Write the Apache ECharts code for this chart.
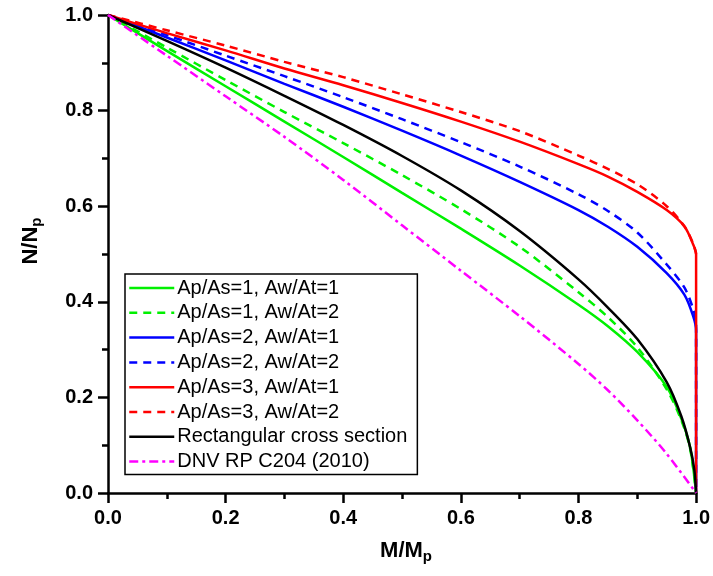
<!DOCTYPE html>
<html>
<head>
<meta charset="utf-8">
<script src="https://cdn.jsdelivr.net/npm/echarts@6/dist/echarts.min.js"></script>
<style>
html,body{margin:0;padding:0;background:#fff;}
#chart{width:713px;height:576px;}
</style>
</head>
<body>
<div id="chart"></div>
<script>
// Series names
const seriesNames = [
  'Ap/As=1, Aw/At=1',
  'Ap/As=1, Aw/At=2',
  'Ap/As=2, Aw/At=1',
  'Ap/As=2, Aw/At=2',
  'Ap/As=3, Aw/At=1',
  'Ap/As=3, Aw/At=2',
  'Rectangular cross section',
  'DNV RP C204 (2010)'
];
// Tick values
const xTicks = [0, 0.2, 0.4, 0.6, 0.8, 1.0];
const yTicks = [0, 0.2, 0.4, 0.6, 0.8, 1.0];

// M/Mp values and N/Np values for each curve
const M_g1 = [0, 0.1, 0.2, 0.3, 0.4, 0.5, 0.6, 0.7, 0.8, 0.85, 0.9, 0.95, 0.975, 0.99, 1.0];
const N_g1 = [1, 0.925, 0.851, 0.777, 0.703, 0.628, 0.553, 0.476, 0.394, 0.349, 0.295, 0.222, 0.155, 0.094, 0];

const M_g2 = [0, 0.1, 0.2, 0.3, 0.4, 0.5, 0.6, 0.7, 0.8, 0.85, 0.9, 0.95, 0.975, 0.99, 1.0];
const N_g2 = [1, 0.932, 0.864, 0.797, 0.732, 0.665, 0.594, 0.515, 0.42, 0.368, 0.305, 0.217, 0.152, 0.092, 0];

const M_b1 = [0, 0.1, 0.2, 0.3, 0.4, 0.5, 0.6, 0.7, 0.8, 0.85, 0.9, 0.95, 0.98, 0.995, 1.0, 1.0];
const N_b1 = [1, 0.953, 0.905, 0.856, 0.808, 0.758, 0.706, 0.651, 0.592, 0.557, 0.515, 0.46, 0.415, 0.37, 0.34, 0];

const M_b2 = [0, 0.1, 0.2, 0.3, 0.4, 0.5, 0.6, 0.7, 0.8, 0.85, 0.9, 0.95, 0.98, 0.995, 1.0, 1.0];
const N_b2 = [1, 0.958, 0.915, 0.872, 0.828, 0.782, 0.734, 0.683, 0.625, 0.59, 0.545, 0.478, 0.43, 0.385, 0.355, 0];

const M_r1 = [0, 0.1, 0.2, 0.3, 0.4, 0.5, 0.6, 0.7, 0.8, 0.85, 0.9, 0.95, 0.98, 0.995, 1.0, 1.0];
const N_r1 = [1, 0.962, 0.926, 0.888, 0.853, 0.816, 0.777, 0.735, 0.688, 0.662, 0.63, 0.592, 0.558, 0.52, 0.50, 0];

const M_r2 = [0, 0.1, 0.2, 0.3, 0.4, 0.5, 0.6, 0.7, 0.8, 0.85, 0.9, 0.95, 0.98, 0.995, 1.0];
const N_r2 = [1, 0.968, 0.936, 0.902, 0.870, 0.834, 0.797, 0.757, 0.706, 0.678, 0.646, 0.600, 0.558, 0.522, 0.50];

const M_rect = [0, 0.1, 0.2, 0.3, 0.4, 0.5, 0.6, 0.7, 0.8, 0.85, 0.9, 0.95, 0.975, 0.99, 0.997, 1.0];
const N_rect = [1, 0.946, 0.89, 0.831, 0.77, 0.705, 0.633, 0.548, 0.447, 0.388, 0.322, 0.232, 0.16, 0.095, 0.048, 0];

const M_dnv = [0, 0.1, 0.2, 0.3, 0.4, 0.5, 0.6, 0.7, 0.8, 0.85, 0.9, 0.95, 1.0];
const N_dnv = [1, 0.915, 0.83, 0.745, 0.655, 0.56, 0.465, 0.37, 0.27, 0.215, 0.152, 0.082, 0];

function zip(a, b) { return a.map((v, i) => [v, b[i]]); }

const curves = [
  { m: M_g1, n: N_g1, color: '#00f000', type: 'solid' },
  { m: M_g2, n: N_g2, color: '#00f000', type: [8, 6] },
  { m: M_b1, n: N_b1, color: '#0000ff', type: 'solid' },
  { m: M_b2, n: N_b2, color: '#0000ff', type: [8, 6] },
  { m: M_r1, n: N_r1, color: '#ff0000', type: 'solid' },
  { m: M_r2, n: N_r2, color: '#ff0000', type: [8, 6] },
  { m: M_rect, n: N_rect, color: '#000000', type: 'solid' },
  { m: M_dnv, n: N_dnv, color: '#ff00ff', type: [9, 4, 3, 4] }
];

const FONT = 'Liberation Sans, Arial, sans-serif';

const chart = echarts.init(document.getElementById('chart'));
chart.setOption({
  animation: false,
  backgroundColor: '#fff',
  grid: { left: 108, right: 12, top: 15, bottom: 83, containLabel: false },
  legend: {
    orient: 'vertical',
    left: 125,
    top: 274,
    padding: [4, 10, 3, 3],
    itemGap: 4.8,
    itemWidth: 45,
    itemHeight: 18,
    itemStyle: { opacity: 0, borderWidth: 0 },
    lineStyle: { width: 2.5 },
    borderColor: '#000',
    borderWidth: 1.5,
    textStyle: { fontSize: 20, lineHeight: 18, color: '#000', fontFamily: FONT, padding: [0, 0, 0, -2] },
    data: seriesNames
  },
  xAxis: {
    type: 'value', min: 0, max: 1, interval: 0.2,
    name: '{a|M/M}{b|p}',
    nameLocation: 'middle',
    nameGap: 44,
    nameTextStyle: {
      padding: [0, 0, 0, 8],
      rich: {
        a: { fontSize: 22, fontWeight: 'bold', fontFamily: FONT, color: '#000' },
        b: { fontSize: 15, fontWeight: 'bold', fontFamily: FONT, color: '#000', padding: [12, 0, 0, 0] }
      }
    },
    axisLine: { lineStyle: { color: '#000', width: 2.5 } },
    axisTick: { inside: false, length: 10, lineStyle: { width: 2.5, color: '#000' } },
    minorTick: { show: true, splitNumber: 2, length: 6, lineStyle: { width: 2.5, color: '#000' } },
    splitLine: { show: false },
    axisLabel: { fontSize: 20, fontWeight: 'bold', fontFamily: FONT, color: '#000', margin: 15,
      formatter: v => v.toFixed(1) }
  },
  yAxis: {
    type: 'value', min: 0, max: 1, interval: 0.2,
    name: '{a|N/N}{b|p}',
    nameLocation: 'middle',
    nameRotate: 90,
    nameGap: 64,
    nameTextStyle: {
      padding: [0, 0, 0, 26],
      rich: {
        a: { fontSize: 22, fontWeight: 'bold', fontFamily: FONT, color: '#000' },
        b: { fontSize: 15, fontWeight: 'bold', fontFamily: FONT, color: '#000', padding: [12, 0, 0, 0] }
      }
    },
    axisLine: { lineStyle: { color: '#000', width: 2.5 } },
    axisTick: { inside: false, length: 10, lineStyle: { width: 2.5, color: '#000' } },
    minorTick: { show: true, splitNumber: 2, length: 6, lineStyle: { width: 2.5, color: '#000' } },
    splitLine: { show: false },
    axisLabel: { fontSize: 20, fontWeight: 'bold', fontFamily: FONT, color: '#000', margin: 15,
      formatter: v => v.toFixed(1) }
  },
  series: curves.map((c, i) => ({
    name: seriesNames[i],
    type: 'line',
    data: zip(c.m, c.n),
    showSymbol: false,
    symbol: 'none',
    smooth: 0.3,
    clip: true,
    color: c.color,
    lineStyle: { color: c.color, width: 2.5, type: c.type }
  }))
});
</script>
</body>
</html>
